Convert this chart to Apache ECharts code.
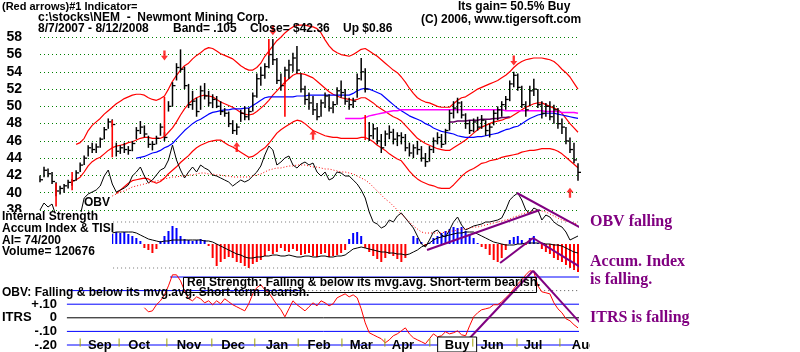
<!DOCTYPE html>
<html><head><meta charset="utf-8">
<script src="https://cdn.jsdelivr.net/npm/echarts@6/dist/echarts.min.js"></script>
<style>html,body{margin:0;padding:0;background:#fff}#c{width:800px;height:352px}</style>
</head><body><div id="c"></div>
<script>
// ---------- DATA ----------
const N = 135; // bar slots, 8/7/2007 .. 8/12/2008
const high = [42.0,43.0,42.8,42.4,41.2,40.8,41.0,41.5,41.6,42.6,
43.5,44.3,45.5,45.8,45.7,46.4,47.6,48.6,48.5,45.8,
45.5,45.8,45.4,46.0,47.6,48.3,47.8,46.6,46.0,46.6,
48.0,47.0,50.6,52.8,55.0,56.6,54.6,52.6,51.8,51.0,
52.4,52.7,51.8,51.4,51.2,50.6,49.8,49.4,48.4,48.0,
49.6,50.0,49.8,51.6,53.8,54.6,55.0,56.4,57.8,55.6,
53.8,54.6,55.4,56.2,57.0,53.8,52.4,51.6,51.2,50.4,
50.8,51.6,51.4,50.6,52.2,53.0,52.0,51.0,51.0,53.8,
55.6,54.4,48.2,48.0,47.6,46.8,47.2,47.8,47.4,47.0,
47.0,46.8,45.8,45.6,46.0,45.4,44.6,45.4,46.4,47.0,
46.8,47.4,49.6,50.6,51.0,50.6,49.2,48.4,48.6,48.8,
49.0,48.4,48.0,49.6,50.0,50.6,51.2,53.0,54.0,53.8,
52.4,50.6,52.4,53.2,52.0,50.6,50.4,50.6,50.2,49.8,
48.6,47.6,46.4,45.8,43.4];
const low = [41.2,41.8,41.8,41.0,39.6,39.8,40.0,40.5,40.8,41.4,
42.4,43.2,44.2,44.6,44.6,45.2,46.2,47.4,47.6,44.2,
44.5,44.6,44.4,44.8,46.2,46.8,46.4,45.2,44.9,45.6,
46.6,46.0,49.4,50.0,53.0,54.0,52.0,49.8,49.6,48.8,
49.6,50.8,50.0,49.8,49.8,49.0,48.8,47.6,46.8,46.7,
48.2,48.4,48.4,49.4,51.0,52.4,53.2,54.4,54.8,52.6,
51.8,52.6,53.2,54.0,53.8,51.6,50.2,49.6,49.0,48.4,
48.8,49.8,49.4,49.2,50.2,51.0,50.2,49.6,49.8,51.0,
53.0,51.6,46.0,46.2,45.6,44.6,45.4,46.2,45.6,45.4,
45.6,44.8,44.2,44.0,44.4,43.6,43.0,43.6,44.6,45.6,
45.2,45.6,47.2,48.6,49.2,48.6,47.4,46.8,47.0,47.2,
47.4,46.6,46.4,47.8,48.4,48.8,49.6,50.6,52.2,51.8,
49.8,48.8,50.0,51.2,49.8,48.6,48.8,48.4,48.0,47.4,
46.8,45.6,44.6,43.4,41.4];
const close = [41.5,42.6,42.2,41.3,40.2,40.5,40.8,41.2,41.4,42.3,
43.2,44.0,45.2,45.0,45.3,46.2,47.3,48.2,47.9,44.8,
45.2,45.0,44.9,45.7,47.2,47.6,46.8,45.6,45.6,46.3,
47.6,46.4,50.0,52.4,54.5,54.3,52.4,50.2,50.6,49.4,
51.8,51.2,50.4,50.8,50.0,49.4,49.2,48.0,47.2,47.6,
49.2,48.8,49.4,51.2,53.2,53.6,54.6,56.0,55.4,53.0,
52.4,54.2,54.8,55.6,54.2,52.0,50.8,50.4,49.6,48.8,
50.4,51.2,49.8,50.2,51.8,51.6,50.6,50.2,50.6,53.2,
54.0,52.0,46.6,47.4,46.0,45.2,46.8,47.0,46.2,46.6,
46.4,45.2,44.6,45.2,45.0,44.0,43.6,45.0,46.0,46.4,
45.6,47.2,49.2,49.8,50.4,49.0,48.0,47.2,48.2,47.6,
48.4,47.2,47.6,49.2,49.6,50.2,50.8,52.6,53.6,52.2,
50.2,49.6,51.8,52.0,50.2,49.2,50.0,48.8,49.6,48.0,
47.6,46.0,45.0,43.8,42.36];

const upperBandStart = 9;
const upperBand = [45.6,45.8,46.3,47.2,47.8,48.2,48.6,49.1,49.5,49.9,50.3,
50.6,50.9,51.1,51.3,51.4,51.4,51.3,51.0,50.8,50.7,
50.9,51.2,52.0,52.9,53.6,54.2,54.7,55.0,55.5,55.9,
56.2,56.6,56.8,56.7,56.4,56.1,55.9,55.7,55.5,55.1,
54.7,54.4,54.2,54.2,54.5,55.0,55.8,56.4,57.0,57.6,
58.0,58.5,58.9,59.2,59.4,59.4,59.4,59.3,59.2,59.0,
58.5,57.7,57.0,56.5,56.2,56.0,55.9,55.8,56.0,56.3,
56.6,56.7,56.4,56.1,55.8,55.4,55.0,54.6,54.2,53.9,
53.4,52.8,52.1,51.5,51.0,50.7,50.5,50.4,50.2,50.0,
49.9,49.9,49.9,50.3,50.7,51.0,51.1,51.4,51.7,52.0,
52.2,52.4,52.6,52.8,53.0,53.3,53.6,54.0,54.5,54.9,
55.2,55.4,55.5,55.6,55.6,55.6,55.5,55.4,55.2,54.8,
54.3,53.9,53.4,52.7,52.0];
const midLineStart = 8;
const midLine = [41.3,41.5,41.8,42.4,43.1,43.6,43.9,44.1,44.5,44.9,45.2,45.4,
45.5,45.6,45.8,45.9,46.1,46.3,46.4,46.4,46.3,46.3,
46.3,46.5,47.0,47.5,48.2,49.0,49.7,50.3,50.7,51.0,
51.2,51.3,51.2,51.1,50.8,50.5,50.3,50.1,49.9,49.6,
49.3,49.1,49.0,49.1,49.4,49.8,50.2,50.7,51.3,51.8,
52.3,52.8,53.2,53.6,53.8,53.8,53.7,53.5,53.3,52.9,
52.5,52.1,51.7,51.4,51.2,51.0,50.9,50.8,50.7,50.8,
51.0,51.0,50.7,50.4,50.0,49.7,49.4,49.1,48.8,48.6,
48.3,47.8,47.3,46.8,46.3,46.0,45.7,45.5,45.3,45.1,
45.0,44.9,44.9,45.2,45.5,45.8,46.1,46.5,46.9,47.3,
47.6,47.8,48.0,48.2,48.3,48.4,48.6,48.7,49.0,49.3,
49.6,49.9,50.1,50.3,50.4,50.4,50.2,50.0,49.8,49.6,
49.2,48.6,48.0,47.5,47.0];
const lowerBandStart = 19;
const lowerBand = [39.9,
40.3,40.7,41.1,41.4,41.5,41.6,41.7,41.6,41.3,41.1,
41.3,41.7,42.2,42.6,43.0,43.5,43.9,44.3,44.8,45.2,
45.5,45.7,45.9,46.0,46.1,46.1,45.8,45.5,45.3,45.0,
44.7,44.4,44.1,44.2,44.5,44.9,45.2,45.7,46.3,46.9,
47.3,47.6,47.9,48.2,48.4,48.3,48.0,47.6,47.2,47.0,
46.8,46.6,46.5,46.4,46.4,46.3,46.3,46.3,46.3,46.3,
46.4,46.4,46.2,45.9,45.5,45.2,44.9,44.5,44.2,43.9,
43.7,43.1,42.5,42.0,41.6,41.3,41.1,40.9,40.8,40.6,
40.5,40.5,40.5,40.9,41.4,41.9,42.3,42.6,42.8,43.1,
43.4,43.5,43.7,43.8,43.9,44.1,44.2,44.3,44.4,44.5,
44.7,44.8,44.9,44.9,45.0,45.1,45.1,45.1,45.0,44.8,
44.5,44.1,43.7,43.3,42.9];
const blueMAStart = 24;
const blueMA = [44.0,44.1,44.2,44.4,44.6,44.7,
44.9,45.2,45.4,45.7,46.2,46.7,47.2,47.6,48.0,48.3,
48.5,48.8,49.1,49.3,49.4,49.5,49.6,49.6,49.7,49.7,
49.7,49.8,49.8,50.1,50.4,50.7,51.0,51.1,51.1,51.1,
51.1,51.1,51.1,51.1,51.2,51.2,51.2,51.3,51.3,51.3,
51.3,51.3,51.3,51.3,51.3,51.3,51.3,51.3,51.5,51.8,
52.0,52.1,52.0,51.8,51.6,51.4,51.0,50.6,50.2,49.8,
49.5,49.2,48.9,48.7,48.5,48.3,48.0,47.8,47.5,47.3,
47.1,47.0,46.9,46.8,46.6,46.5,46.4,46.4,46.4,46.5,
46.5,46.6,46.7,46.8,46.9,47.1,47.3,47.4,47.6,47.7,
48.0,48.3,48.6,48.8,49.0,49.1,49.2,49.2,49.2,49.1,
49.0,48.9,48.8,48.7,48.6];
const magentaMAStart = 76;
const magentaMA = [48.6,48.6,48.6,48.6,
48.6,48.7,48.9,49.0,49.1,49.2,49.3,49.4,49.5,49.5,
49.6,49.6,49.6,49.6,49.6,49.6,49.6,49.6,49.6,49.6,
49.6,49.6,49.6,49.6,49.6,49.6,49.6,49.6,49.6,49.6,
49.6,49.6,49.6,49.6,49.6,49.6,49.5,49.5,49.5,49.5,
49.5,49.5,49.5,49.5,49.5,49.5,49.4,49.4,49.4,49.4,
49.3,49.3,49.3,49.3,49.2];
const purpleMAStart = 102;
const purpleMA = [48.2,48.2,48.3,48.3,48.3,48.4,48.4,48.4,48.5,48.5,48.5,48.6,48.6,48.7,48.7,48.8];

// signal markers
const sellArrowIdx = [31, 58, 118];
const sellArrowVal = [55.9, 58.8, 55.3];
const buyArrowIdx = [49, 68, 132];
const buyArrowVal = [45.3, 46.7, 40.0];
const signalIdx = [4, 8, 18, 31, 57, 61, 81];
const signalLow = [38.4, 40.3, 44.1, 46.5, 55.9, 48.8, 46.1];
const signalHigh = [41.1, 42.4, 48.4, 51.1, 57.8, 53.4, 49.0];

// OBV (relative units) and its moving average
const obv = [30,33.5,31.5,33,27,26,25,26,25,26,
27,36,38,39,40,42,47,50,43,39,
40,41,42.5,47,49,51.5,47,43.5,45,47.5,
50,51,55,62.5,55,50,46,49,51.5,49,
52.5,51,50,47.5,47,46,45,44,42,43.5,
45,44,45,47,49,52,57.5,62,60,52.5,
54,56,57,52.5,51,53,54,52.5,53.5,49,
47,49,45,46,49,48.5,47,47,45,43,
40,36,29,24,23,21,22,25,24,27,
28.5,26,23.5,21,17,13,11.5,15,19,20,
17.5,16.5,20,24,26.5,22.5,20,21,22,22.5,
23,24,24,24.5,25,26,30,35,37,38.5,
35,30,28.5,31,30,25,27.5,26.5,24,22.5,
21.5,19,15,16,17];
const obvMAStart = 18;
const obvMA = [37,38,39,39.5,40.5,41.5,42,42.5,43,43.5,44,44.5,
45,45.5,46,46.5,46.5,47,47,47.5,47.5,48,
48.5,48.5,48,48,47.5,47.5,47,47,46.5,46.5,46.5,46.5,46.5,
47,47.5,48,49,50,50.5,51,51,51.5,52,52,52.5,
52.5,52.5,52,51.5,51.5,51,50.5,50.5,50,49.5,49,49,
48.5,48,47,46,45,43.5,41.5,39.5,37.5,35.5,34,32,
30,28,26,24,22,20.5,19,18.5,18.5,18.5,18.5,18.5,
19,19.5,19.5,20,20.5,20.5,21,21.5,21.5,22,22.5,23,
23.5,24,24.5,25,25.5,26.5,27,28,28.5,29,29.5,30,
29.5,29,28,27,26,25,24.5,24,23.5,23];

// Accumulation Index bars and TISI line
const accumStart = 18;
const accum = [0.20,0.24,0.22,0.24,0.20,0.16,0.12,0.06,-0.08,-0.12,-0.18,-0.10,
0.06,0.16,0.26,0.36,0.32,0.16,0.10,0.08,0.06,0.08,0.10,0.08,
-0.04,-0.28,-0.44,-0.36,-0.30,-0.26,-0.28,-0.36,-0.38,-0.44,-0.48,-0.40,
-0.36,-0.32,-0.24,-0.14,-0.20,-0.16,-0.08,-0.14,-0.16,-0.10,-0.14,-0.22,
-0.20,-0.18,-0.24,-0.26,-0.20,-0.18,-0.26,-0.24,-0.22,-0.18,-0.12,0.10,
0.22,0.24,0.16,-0.08,-0.16,-0.24,-0.30,-0.36,-0.28,-0.20,-0.24,-0.30,
-0.36,-0.28,0.00,0.16,0.12,0.04,-0.04,0.02,0.12,0.16,0.22,0.26,
0.30,0.34,0.32,0.34,0.26,0.20,0.12,0.02,-0.06,-0.10,-0.22,-0.32,
-0.36,-0.28,-0.12,0.08,0.14,0.16,0.08,-0.02,0.12,0.16,0.02,-0.10,
-0.16,-0.20,-0.28,-0.32,-0.36,-0.42,-0.48,-0.52,-0.56];
const tisi = [0.22,0.24,0.24,0.24,0.24,0.24,0.22,0.18,0.14,0.10,0.08,0.06,
0.04,0.06,0.06,0.08,0.08,0.08,0.08,0.08,0.08,0.08,0.08,0.06,
0.06,0.04,0.00,-0.04,-0.08,-0.12,-0.16,-0.20,-0.22,-0.26,-0.28,-0.28,
-0.26,-0.26,-0.24,-0.24,-0.22,-0.22,-0.24,-0.24,-0.22,-0.24,-0.26,-0.26,
-0.24,-0.24,-0.26,-0.26,-0.24,-0.24,-0.26,-0.26,-0.24,-0.24,-0.22,-0.16,
-0.10,-0.08,-0.06,-0.08,-0.10,-0.12,-0.14,-0.16,-0.16,-0.18,-0.18,-0.20,
-0.20,-0.22,-0.20,-0.16,-0.12,-0.06,-0.02,0.02,0.08,0.12,0.14,0.16,
0.18,0.20,0.22,0.22,0.24,0.24,0.24,0.20,0.16,0.12,0.08,0.04,
0.02,0.00,-0.02,-0.02,-0.02,0.00,0.00,0.02,0.02,0.02,0.02,0.02,
0.00,0.00,-0.02,-0.02,-0.04,-0.08,-0.12,-0.16,-0.18];

// ITRS (intermediate-term relative strength)
const itrsStart = 26;
const itrs = [0.074,0.044,0.051,0.096,0.125,0.169,0.235,0.316,0.316,0.272,0.199,0.140,
0.125,0.154,0.140,0.110,0.125,0.096,0.125,0.103,0.140,0.118,0.096,0.081,
0.066,0.051,0.103,0.176,0.221,0.243,0.206,0.184,0.140,0.096,0.059,0.007,
0.066,0.125,0.096,0.074,0.051,0.081,0.110,0.088,0.125,0.110,0.088,0.103,
0.147,0.162,0.176,0.154,0.169,0.147,0.066,-0.037,-0.110,-0.125,-0.140,-0.154,
-0.184,-0.162,-0.132,-0.118,-0.096,-0.074,-0.118,-0.147,-0.162,-0.176,-0.191,-0.154,
-0.118,-0.140,-0.132,-0.103,-0.118,-0.110,-0.096,-0.125,-0.132,-0.059,0.007,0.037,
0.059,0.066,0.074,0.096,0.096,0.118,0.147,0.176,0.213,0.250,0.279,0.316,
0.346,0.338,0.235,0.191,0.184,0.176,0.110,0.066,0.037,-0.007,-0.022,-0.051,-0.074];

// hand-drawn purple trend lines [[x0,y0],[x1,y1]]
const obvTrendLines = [[[118.8,38.5],[137,18.5]], [[96.4,10],[124.5,30]]];
const accumTrendLines = [[[114.6,-0.38],[122.8,0.12]], [[122.8,0.12],[137,-0.58]]];
const itrsTrendLines = [[[106.4,-0.169],[122.8,0.346]], [[122.8,0.346],[137,-0.118]]];

// axis tick labels
const priceTicks = [38,40,42,44,46,48,50,52,54,56,58];
const itrsTickLabels = {'0.1':'+.10','0':'0','-0.1':'-.10','-0.2':'-.20'};
const monthNames = ['Sep','Oct','Nov','Dec','Jan','Feb','Mar','Apr','Buy','Jun','Jul','Aug'];
const monthTickIdx = [10,19.7,31.6,42.8,53.5,64.3,75.2,85.9,97.1,107.8,118.8,129.5];
const monthLabelIdx = [14.9,24.7,37.1,48.1,59.0,69.5,80.0,90.4,103.9,112.6,122.8,135.6];

// ---------- CHART ----------
const SANS = "'Liberation Sans', Arial, sans-serif";
const SERIF = "'Liberation Serif', 'Times New Roman', serif";
const PURPLE = '#800080';
const XMAX = N - 1;

function seg(start, vals){ return vals.map((v,k)=>[start+k, v]); }
function lineS(data, xi, color, width, dash, z){
  return {type:'line', xAxisIndex:xi, yAxisIndex:xi, data, symbol:'none', showSymbol:false,
    lineStyle:{color, width, type: dash || 'solid'}, clip:false, silent:true, z: z || 2};
}

const series = [];
// price HLC bars
series.push({type:'custom', xAxisIndex:0, yAxisIndex:0, z:3, clip:false,
  data: high.map((h,i)=>[i, h, low[i], close[i]]), encode:{x:0, y:[1,2,3]},
  renderItem:(p, api)=>{
    const h = api.coord([api.value(0), api.value(1)]);
    const l = api.coord([api.value(0), api.value(2)]);
    const c = api.coord([api.value(0), api.value(3)]);
    return {type:'group', children:[
      {type:'line', shape:{x1:h[0],y1:h[1],x2:l[0],y2:l[1]}, style:{stroke:'#000', lineWidth:1.5}},
      {type:'line', shape:{x1:c[0],y1:c[1],x2:c[0]+3,y2:c[1]}, style:{stroke:'#000', lineWidth:1.3}}
    ]};
  }});
series.push(lineS(seg(upperBandStart, upperBand), 0, '#ff0000', 1.2));
series.push(lineS(seg(midLineStart, midLine), 0, '#ff0000', 1.2));
series.push(lineS(seg(lowerBandStart, lowerBand), 0, '#ff0000', 1.2));
series.push(lineS(seg(blueMAStart, blueMA), 0, '#0000ff', 1.2));
series.push(lineS(seg(magentaMAStart, magentaMA), 0, '#ff00ff', 1.5));
series.push(lineS(seg(purpleMAStart, purpleMA), 0, '#660066', 1.5));
// signal lines
series.push({type:'custom', xAxisIndex:0, yAxisIndex:0, z:4, clip:false,
  data: signalIdx.map((x,k)=>[x, signalLow[k], signalHigh[k]]), encode:{x:0, y:[1,2]},
  renderItem:(p, api)=>{
    const a = api.coord([api.value(0), api.value(1)]);
    const b = api.coord([api.value(0), api.value(2)]);
    return {type:'line', shape:{x1:a[0],y1:a[1],x2:b[0],y2:b[1]}, style:{stroke:'#ff0000', lineWidth:1.6}};
  }});
// arrows
series.push({type:'scatter', xAxisIndex:0, yAxisIndex:0, z:5, silent:true,
  data: sellArrowIdx.map((x,k)=>[x, sellArrowVal[k]]),
  symbol:'path://M3,0L6,0L6,6L9,6L4.5,11L0,6L3,6Z', symbolSize:[7,10], itemStyle:{color:'#ff0000'}});
series.push({type:'scatter', xAxisIndex:0, yAxisIndex:0, z:5, silent:true,
  data: buyArrowIdx.map((x,k)=>[x, buyArrowVal[k]]),
  symbol:'path://M4.5,0L9,5L6,5L6,11L3,11L3,5L0,5Z', symbolSize:[7,10], itemStyle:{color:'#ff0000'}});
// OBV
series.push(lineS(seg(0, obv), 1, '#000000', 1));
series.push(lineS(seg(obvMAStart, obvMA), 1, '#ff0000', 1, [1,2]));
obvTrendLines.forEach(t=>series.push(lineS(t, 1, PURPLE, 2, null, 6)));
// Accum index
series.push({type:'bar', xAxisIndex:2, yAxisIndex:2, barWidth:2, silent:true,
  data: seg(accumStart, accum).map(d=>({value:d, itemStyle:{color: d[1] >= 0 ? '#0000ff' : '#ff0000'}}))});
series.push(lineS(seg(accumStart, tisi), 2, '#000000', 1, null, 4));
series.push(lineS([[18.2,0.44],[135,0.44]], 2, '#777777', 1, [1,3]));
series.push(lineS([[18.2,-0.48],[135,-0.48]], 2, '#777777', 1, [1,3]));
accumTrendLines.forEach(t=>series.push(lineS(t, 2, PURPLE, 2, null, 6)));
// ITRS reference levels
series.push(lineS([[32.4,0.3],[135,0.3]], 3, '#0000ff', 1));
series.push(lineS([[6.7,0.2],[64.8,0.2]], 3, '#0000ff', 1));
series.push(lineS([[64.8,0.2],[135,0.2]], 3, '#555555', 1, [1,3]));
series.push(lineS([[6.7,0.1],[135,0.1]], 3, '#0000ff', 1));
series.push(lineS([[6.7,0],[135,0]], 3, '#000000', 1));
series.push(lineS([[6.7,-0.1],[135,-0.1]], 3, '#0000ff', 1));
series.push(lineS([[6.7,-0.2],[135,-0.2]], 3, '#0000ff', 1));
series.push(lineS(seg(itrsStart, itrs), 3, '#ff0000', 1, null, 4));
itrsTrendLines.forEach(t=>series.push(lineS(t, 3, PURPLE, 2, null, 6)));
// month ticks and labels
series.push({type:'custom', xAxisIndex:3, yAxisIndex:3, z:7, clip:false,
  data: monthNames.map((m,k)=>[monthTickIdx[k], monthLabelIdx[k], k]), encode:{x:[0,1]},
  renderItem:(p, api)=>{
    const k = api.value(2);
    const t1 = api.coord([api.value(0), -0.152]);
    const t2 = api.coord([api.value(0), -0.212]);
    const c = api.coord([api.value(1), -0.2]);
    const ch = [{type:'line', shape:{x1:t1[0],y1:t1[1],x2:t2[0],y2:t2[1]}, style:{stroke:'#a0a000', lineWidth:1}}];
    if (monthNames[k] === 'Buy') ch.push({type:'rect', shape:{x:c[0]-19.5, y:c[1]-8, width:39, height:15}, style:{fill:'#fff', stroke:'#000', lineWidth:1}});
    ch.push({type:'text', style:{text:monthNames[k], x:c[0], y:c[1], align:'center', verticalAlign:'middle', font:'bold 13px ' + SANS, fill:'#000'}});
    return {type:'group', children:ch};
  }});

function txt(text, left, top, font, fill, extra){
  return Object.assign({type:'text', left, top, z:100, style:{text, font, fill: fill || '#000'}}, extra || {});
}
const F11 = 'bold 11px ' + SANS, F12 = 'bold 12px ' + SANS, FS = 'bold 16px ' + SERIF;

const option = {
  animation:false,
  backgroundColor:'#ffffff',
  grid:[
    {left:40, right:222, top:20, height:190},
    {left:40, right:222, top:20, height:250},
    {left:40, right:222, top:219, height:55},
    {left:40, right:222, top:277, height:68}
  ],
  xAxis:[0,1,2,3].map(g=>({type:'value', gridIndex:g, min:0, max:XMAX, show:false})),
  yAxis:[
    {type:'value', gridIndex:0, min:priceTicks[0], max:60, interval:2,
      axisLine:{show:false}, axisTick:{show:false},
      axisLabel:{color:'#000', fontWeight:'bold', fontSize:14, fontFamily:SANS, margin:18,
        formatter:v=> priceTicks.indexOf(v) >= 0 ? String(v) : ''},
      splitLine:{show:true, showMinLine:true, showMaxLine:false, lineStyle:{color:'#008000', width:1, type:[1,3]}}},
    {type:'value', gridIndex:1, min:0, max:125, show:false},
    {type:'value', gridIndex:2, min:-0.6, max:0.5, show:false},
    {type:'value', gridIndex:3, min:-0.2, max:0.3, interval:0.1,
      axisLine:{show:false}, axisTick:{show:false}, splitLine:{show:false},
      axisLabel:{inside:true, align:'right', margin:17, color:'#000', fontWeight:'bold', fontSize:13, fontFamily:SANS,
        formatter:v=> itrsTickLabels[String(Math.round(v*10)/10)] || ''}}
  ],
  series,
  graphic:[
    txt('(Red arrows)#1 Indicator=', 2, 1, F11),
    txt('c:\\stocks\\NEM  -  Newmont Mining Corp.', 38, 12, F12),
    txt('8/7/2007 - 8/12/2008', 38, 23, F12),
    txt('Band= .105', 173, 23, F12),
    txt('Close= $42.36', 250, 23, F12),
    txt('Up $0.86', 343, 23, F12),
    txt('Its gain= 50.5% Buy', 458, 1, F12),
    txt('(C) 2006, www.tigersoft.com', 421, 14, F12),
    txt('OBV', 84, 197, F12),
    {type:'rect', left:0, top:212, z:99, shape:{width:112, height:47}, style:{fill:'#fff'}},
    txt('Internal Strength', 2, 211, F12),
    txt('Accum Index & TISI', 2, 223, F12),
    txt('AI= 74/200', 2, 235, F12),
    txt('Volume= 120676', 2, 246, F12),
    txt('OBV: Falling & below its mvg.avg. Short-term bearish.', 2, 287, F12),
    {type:'rect', left:181, top:275, z:99, shape:{width:353, height:15}, style:{fill:'none', stroke:'#000', lineWidth:1}},
    txt('Rel Strength: Falling & below its mvg.avg. Short-term bearish.', 187, 277, F12),
    txt('ITRS', 2, 311, 'bold 13px ' + SANS),
    {type:'rect', left:590, top:336, z:99, shape:{width:12, height:16}, style:{fill:'#fff'}},
    txt('OBV falling', 590, 214, FS, PURPLE),
    txt('Accum. Index', 590, 254, FS, PURPLE),
    txt('is falling.', 590, 272, FS, PURPLE),
    txt('ITRS is falling', 590, 310, FS, PURPLE)
  ]
};
const chart = echarts.init(document.getElementById('c'), null, {renderer:'canvas'});
chart.setOption(option);
</script>
</body></html>
